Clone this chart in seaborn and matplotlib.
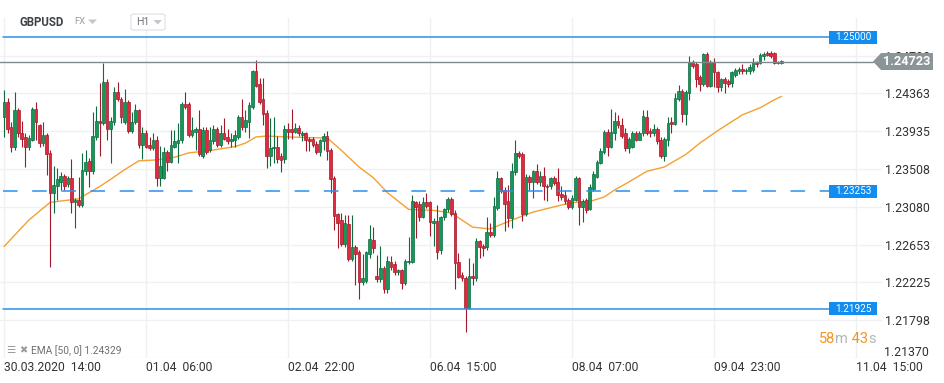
import numpy as np
import pandas as pd
import matplotlib
matplotlib.use("Agg")
import matplotlib.pyplot as plt
import matplotlib.transforms as mtransforms
from matplotlib.patches import Polygon, Rectangle, FancyBboxPatch
import seaborn as sns

# ---------------- data (GBPUSD, H1 candles) ----------------
opens = [
    1.2410, 1.2427, 1.2398, 1.2376, 1.2417, 1.2392, 1.2387, 1.2376, 1.2384, 1.2419,
    1.2400, 1.2380, 1.2389, 1.2369, 1.2324, 1.2331, 1.2336, 1.2343, 1.2334, 1.2340,
    1.2313, 1.2316, 1.2310, 1.2348, 1.2360, 1.2348, 1.2387, 1.2405, 1.2403, 1.2449,
    1.2396, 1.2404, 1.2438, 1.2430, 1.2404, 1.2426, 1.2394, 1.2404, 1.2417, 1.2378,
    1.2391, 1.2378, 1.2375, 1.2384, 1.2341, 1.2341, 1.2370, 1.2359, 1.2376, 1.2380,
    1.2383, 1.2424, 1.2424, 1.2389, 1.2393, 1.2396, 1.2366, 1.2395, 1.2372, 1.2382,
    1.2396, 1.2378, 1.2391, 1.2387, 1.2382, 1.2383, 1.2387, 1.2410, 1.2398, 1.2404,
    1.2421, 1.2461, 1.2447, 1.2430, 1.2414, 1.2366, 1.2374, 1.2376, 1.2365, 1.2362,
    1.2396, 1.2396, 1.2393, 1.2397, 1.2389, 1.2391, 1.2385, 1.2385, 1.2379, 1.2370,
    1.2382, 1.2388, 1.2372, 1.2341, 1.2300, 1.2293, 1.2266, 1.2289, 1.2249, 1.2262,
    1.2257, 1.2223, 1.2224, 1.2255, 1.2271, 1.2230, 1.2226, 1.2239, 1.2215, 1.2245,
    1.2243, 1.2234, 1.2236, 1.2222, 1.2245, 1.2246, 1.2313, 1.2311, 1.2297, 1.2313,
    1.2313, 1.2290, 1.2292, 1.2259, 1.2296, 1.2305, 1.2317, 1.2301, 1.2245, 1.2231,
    1.2228, 1.2194, 1.2230, 1.2227, 1.2269, 1.2264, 1.2262, 1.2280, 1.2276, 1.2307,
    1.2340, 1.2327, 1.2314, 1.2295, 1.2347, 1.2369, 1.2368, 1.2300, 1.2342, 1.2336,
    1.2348, 1.2336, 1.2343, 1.2332, 1.2331, 1.2341, 1.2336, 1.2323, 1.2321, 1.2316,
    1.2308, 1.2316, 1.2340, 1.2308, 1.2316, 1.2306, 1.2328, 1.2342, 1.2358, 1.2370,
    1.2393, 1.2376, 1.2392, 1.2405, 1.2400, 1.2392, 1.2374, 1.2376, 1.2392, 1.2384,
    1.2391, 1.2410, 1.2394, 1.2391, 1.2396, 1.2383, 1.2365, 1.2383, 1.2404, 1.2402,
    1.2430, 1.2439, 1.2413, 1.2437, 1.2472, 1.2470, 1.2455, 1.2447, 1.2481, 1.2445,
    1.2472, 1.2460, 1.2443, 1.2453, 1.2450, 1.2448, 1.2457, 1.2461, 1.2464, 1.2461,
    1.2461, 1.2463, 1.2471, 1.2471, 1.2478, 1.2482, 1.2482, 1.2482, 1.2471, 1.2471,
]
highs = [
    1.2440, 1.2431, 1.2404, 1.2438, 1.2420, 1.2405, 1.2392, 1.2389, 1.2421, 1.2427,
    1.2402, 1.2404, 1.2392, 1.2372, 1.2354, 1.2352, 1.2347, 1.2345, 1.2343, 1.2362,
    1.2318, 1.2342, 1.2369, 1.2372, 1.2363, 1.2415, 1.2422, 1.2448, 1.2471, 1.2453,
    1.2409, 1.2443, 1.2449, 1.2432, 1.2441, 1.2429, 1.2415, 1.2424, 1.2419, 1.2398,
    1.2395, 1.2387, 1.2392, 1.2388, 1.2377, 1.2376, 1.2372, 1.2395, 1.2395, 1.2403,
    1.2426, 1.2438, 1.2427, 1.2409, 1.2398, 1.2417, 1.2398, 1.2398, 1.2398, 1.2400,
    1.2398, 1.2401, 1.2408, 1.2396, 1.2392, 1.2395, 1.2412, 1.2430, 1.2418, 1.2426,
    1.2463, 1.2474, 1.2454, 1.2454, 1.2417, 1.2408, 1.2410, 1.2388, 1.2369, 1.2400,
    1.2403, 1.2419, 1.2403, 1.2400, 1.2394, 1.2393, 1.2387, 1.2387, 1.2382, 1.2385,
    1.2391, 1.2394, 1.2375, 1.2343, 1.2301, 1.2301, 1.2299, 1.2299, 1.2299, 1.2265,
    1.2259, 1.2255, 1.2258, 1.2287, 1.2285, 1.2253, 1.2264, 1.2241, 1.2252, 1.2252,
    1.2247, 1.2238, 1.2238, 1.2249, 1.2274, 1.2321, 1.2315, 1.2314, 1.2319, 1.2324,
    1.2315, 1.2295, 1.2310, 1.2298, 1.2307, 1.2319, 1.2319, 1.2304, 1.2256, 1.2234,
    1.2230, 1.2250, 1.2244, 1.2273, 1.2271, 1.2266, 1.2297, 1.2290, 1.2319, 1.2349,
    1.2342, 1.2330, 1.2333, 1.2357, 1.2384, 1.2371, 1.2370, 1.2345, 1.2344, 1.2350,
    1.2356, 1.2348, 1.2353, 1.2334, 1.2342, 1.2343, 1.2352, 1.2331, 1.2327, 1.2318,
    1.2321, 1.2343, 1.2342, 1.2317, 1.2318, 1.2334, 1.2349, 1.2361, 1.2374, 1.2395,
    1.2396, 1.2419, 1.2415, 1.2412, 1.2408, 1.2397, 1.2387, 1.2394, 1.2394, 1.2394,
    1.2417, 1.2417, 1.2397, 1.2402, 1.2398, 1.2387, 1.2387, 1.2409, 1.2410, 1.2437,
    1.2446, 1.2441, 1.2440, 1.2479, 1.2474, 1.2472, 1.2457, 1.2482, 1.2483, 1.2474,
    1.2476, 1.2462, 1.2454, 1.2455, 1.2453, 1.2462, 1.2465, 1.2466, 1.2470, 1.2465,
    1.2469, 1.2476, 1.2473, 1.2482, 1.2483, 1.2484, 1.2484, 1.2483, 1.2473, 1.2474,
]
lows = [
    1.2387, 1.2392, 1.2370, 1.2372, 1.2387, 1.2376, 1.2353, 1.2372, 1.2382, 1.2384,
    1.2376, 1.2377, 1.2344, 1.2240, 1.2301, 1.2316, 1.2327, 1.2327, 1.2330, 1.2301,
    1.2284, 1.2308, 1.2308, 1.2344, 1.2330, 1.2345, 1.2384, 1.2365, 1.2401, 1.2383,
    1.2358, 1.2401, 1.2428, 1.2403, 1.2402, 1.2392, 1.2392, 1.2402, 1.2374, 1.2362,
    1.2374, 1.2372, 1.2372, 1.2331, 1.2332, 1.2339, 1.2349, 1.2357, 1.2374, 1.2358,
    1.2380, 1.2419, 1.2387, 1.2387, 1.2372, 1.2366, 1.2363, 1.2368, 1.2370, 1.2379,
    1.2376, 1.2376, 1.2383, 1.2379, 1.2376, 1.2376, 1.2385, 1.2395, 1.2393, 1.2386,
    1.2419, 1.2443, 1.2424, 1.2400, 1.2352, 1.2354, 1.2357, 1.2357, 1.2347, 1.2358,
    1.2385, 1.2385, 1.2391, 1.2388, 1.2382, 1.2371, 1.2371, 1.2376, 1.2368, 1.2366,
    1.2372, 1.2361, 1.2324, 1.2282, 1.2261, 1.2264, 1.2262, 1.2247, 1.2247, 1.2219,
    1.2204, 1.2219, 1.2222, 1.2250, 1.2256, 1.2223, 1.2223, 1.2211, 1.2211, 1.2237,
    1.2231, 1.2231, 1.2215, 1.2220, 1.2243, 1.2244, 1.2273, 1.2292, 1.2295, 1.2307,
    1.2275, 1.2264, 1.2249, 1.2255, 1.2293, 1.2302, 1.2298, 1.2215, 1.2227, 1.2224,
    1.2166, 1.2192, 1.2220, 1.2224, 1.2250, 1.2252, 1.2259, 1.2274, 1.2274, 1.2304,
    1.2324, 1.2281, 1.2285, 1.2284, 1.2344, 1.2363, 1.2292, 1.2298, 1.2327, 1.2318,
    1.2334, 1.2331, 1.2316, 1.2314, 1.2328, 1.2333, 1.2314, 1.2316, 1.2311, 1.2306,
    1.2306, 1.2314, 1.2287, 1.2291, 1.2301, 1.2304, 1.2326, 1.2340, 1.2356, 1.2368,
    1.2365, 1.2374, 1.2384, 1.2397, 1.2386, 1.2371, 1.2369, 1.2374, 1.2382, 1.2383,
    1.2388, 1.2389, 1.2387, 1.2388, 1.2379, 1.2363, 1.2360, 1.2377, 1.2392, 1.2400,
    1.2428, 1.2404, 1.2401, 1.2429, 1.2465, 1.2444, 1.2439, 1.2445, 1.2443, 1.2443,
    1.2443, 1.2438, 1.2439, 1.2437, 1.2444, 1.2443, 1.2455, 1.2458, 1.2458, 1.2458,
    1.2458, 1.2460, 1.2466, 1.2469, 1.2474, 1.2478, 1.2476, 1.2469, 1.2469, 1.2470,
]
closes = [
    1.2427, 1.2396, 1.2376, 1.2417, 1.2391, 1.2385, 1.2376, 1.2386, 1.2419, 1.2404,
    1.2380, 1.2389, 1.2368, 1.2324, 1.2333, 1.2339, 1.2343, 1.2332, 1.2340, 1.2313,
    1.2316, 1.2310, 1.2350, 1.2359, 1.2348, 1.2388, 1.2405, 1.2403, 1.2449, 1.2396,
    1.2405, 1.2438, 1.2430, 1.2410, 1.2426, 1.2394, 1.2404, 1.2417, 1.2378, 1.2392,
    1.2376, 1.2375, 1.2384, 1.2341, 1.2354, 1.2370, 1.2359, 1.2378, 1.2382, 1.2384,
    1.2424, 1.2421, 1.2389, 1.2395, 1.2396, 1.2368, 1.2395, 1.2370, 1.2384, 1.2396,
    1.2378, 1.2391, 1.2385, 1.2382, 1.2385, 1.2389, 1.2410, 1.2398, 1.2406, 1.2423,
    1.2461, 1.2445, 1.2427, 1.2413, 1.2366, 1.2375, 1.2376, 1.2362, 1.2361, 1.2396,
    1.2393, 1.2393, 1.2397, 1.2391, 1.2392, 1.2383, 1.2382, 1.2378, 1.2370, 1.2383,
    1.2388, 1.2371, 1.2339, 1.2298, 1.2290, 1.2266, 1.2290, 1.2249, 1.2262, 1.2255,
    1.2223, 1.2227, 1.2257, 1.2272, 1.2261, 1.2226, 1.2239, 1.2215, 1.2247, 1.2240,
    1.2234, 1.2236, 1.2222, 1.2247, 1.2247, 1.2314, 1.2308, 1.2297, 1.2313, 1.2309,
    1.2291, 1.2292, 1.2257, 1.2296, 1.2305, 1.2317, 1.2300, 1.2244, 1.2229, 1.2227,
    1.2194, 1.2230, 1.2227, 1.2269, 1.2263, 1.2261, 1.2280, 1.2276, 1.2309, 1.2340,
    1.2326, 1.2311, 1.2295, 1.2348, 1.2369, 1.2366, 1.2300, 1.2342, 1.2336, 1.2348,
    1.2336, 1.2343, 1.2331, 1.2330, 1.2341, 1.2335, 1.2321, 1.2319, 1.2314, 1.2308,
    1.2318, 1.2341, 1.2308, 1.2315, 1.2304, 1.2330, 1.2345, 1.2359, 1.2371, 1.2393,
    1.2376, 1.2393, 1.2405, 1.2400, 1.2388, 1.2374, 1.2385, 1.2392, 1.2384, 1.2392,
    1.2411, 1.2392, 1.2391, 1.2396, 1.2382, 1.2365, 1.2385, 1.2403, 1.2402, 1.2431,
    1.2439, 1.2413, 1.2438, 1.2472, 1.2467, 1.2453, 1.2447, 1.2481, 1.2445, 1.2472,
    1.2460, 1.2443, 1.2452, 1.2448, 1.2447, 1.2460, 1.2463, 1.2464, 1.2461, 1.2463,
    1.2466, 1.2472, 1.2469, 1.2480, 1.2481, 1.2480, 1.2479, 1.2471, 1.2472, 1.24723,
]

ema_idx = [0, 7, 13, 21, 27, 30, 34, 38, 43, 48, 52, 57, 65, 68, 71, 74, 80, 88, 91, 95,
           100, 104, 108, 114, 121, 126, 129, 132, 137, 140, 145, 149, 157, 161, 165, 169,
           172, 176, 181, 186, 192, 196, 201, 208, 213, 217, 219]
ema_val = [1.2263, 1.2293, 1.2313, 1.2317, 1.2331, 1.2339, 1.2350, 1.2360, 1.2361, 1.2364,
           1.2369, 1.2371, 1.2376, 1.2380, 1.2387, 1.2388, 1.2387, 1.2386, 1.2386, 1.2372,
           1.2353, 1.2341, 1.2324, 1.2305, 1.2304, 1.2301, 1.2293, 1.2285, 1.2283, 1.2288,
           1.2296, 1.2302, 1.2310, 1.2313, 1.2314, 1.2319, 1.2327, 1.2336, 1.2348, 1.2353,
           1.2367, 1.2380, 1.2394, 1.2412, 1.2420, 1.2429, 1.24329]

x_tick_pos = [0, 40, 80, 120, 160, 200, 240]
x_tick_labels = ["30.03.2020  14:00", "01.04  06:00", "02.04  22:00", "06.04  15:00",
                 "08.04  07:00", "09.04  23:00", "11.04  15:00"]
y_ticks = [1.24790, 1.24363, 1.23935, 1.23508, 1.23080, 1.22653, 1.22225, 1.21798, 1.21370]

levels = [1.25000, 1.23253, 1.21925]
level_styles = ["solid", "dashed", "solid"]
last_price = 1.24723
ema_label = "EMA [50, 0] 1.24329"
countdown = ["58", "m", " 43", "s"]

# ---------------- style ----------------
sns.set_theme(style="white")
plt.rcParams["font.family"] = ["Roboto", "DejaVu Sans"]
plt.rcParams["lines.scale_dashes"] = False

GREEN, GREEN_EDGE = "#17965a", "#0d6b3d"
RED, RED_EDGE = "#e02a3c", "#a3182a"
BLUE, BLUE_BOX = "#2a90ef", "#118cf0"
ORANGE = "#f5a030"
GRID = "#eef0f2"
TXT = "#333333"

W, H = 945, 383
AX_L, AX_R, AX_T, AX_B = 0, 882, 18, 358
X0_PX, STEP_PX = 4.0, 3.55
Y_TOP, Y_BOT = 1.25215, 1.21373

fig = plt.figure(figsize=(W / 100, H / 100), dpi=100)
fig.patch.set_facecolor("white")
ax = fig.add_axes([AX_L / W, 1 - AX_B / H, (AX_R - AX_L) / W, (AX_B - AX_T) / H])
ax.set_facecolor("white")


def fx(px):
    return px / W


def fy(py):
    return 1 - py / H


ppx = (Y_TOP - Y_BOT) / (AX_B - AX_T)
bt = mtransforms.blended_transform_factory(fig.transFigure, ax.transData)

df = pd.DataFrame({"o": opens, "h": highs, "l": lows, "c": closes})
df["i"] = np.arange(len(df))
up = (df["c"] >= df["o"]).to_numpy()

# EMA line
ema_df = pd.DataFrame({"i": ema_idx, "v": ema_val})
sns.lineplot(data=ema_df, x="i", y="v", ax=ax, color=ORANGE, linewidth=1.0, zorder=2)

# wicks
ax.vlines(df["i"], df["l"], df["h"], colors=np.where(up, GREEN_EDGE, RED_EDGE),
          linewidth=0.8, zorder=3)
# bodies
min_h = 1.3 * ppx
raw_h = (df["c"] - df["o"]).abs().to_numpy()
mid = ((df["c"] + df["o"]) / 2).to_numpy()
body_h = np.maximum(raw_h, min_h)
body_b = mid - body_h / 2
ax.bar(df["i"], body_h, bottom=body_b, width=0.74,
       color=np.where(up, GREEN, RED), edgecolor=np.where(up, GREEN_EDGE, RED_EDGE),
       linewidth=0.5, zorder=4)

# axes limits / ticks
ax.set_xlim((AX_L - X0_PX) / STEP_PX, (AX_R - X0_PX) / STEP_PX)
ax.set_ylim(Y_BOT, Y_TOP)
ax.set_xticks(x_tick_pos)
ax.set_xticklabels(x_tick_labels, ha="left")
ax.yaxis.tick_right()
ax.set_yticks(y_ticks)
ax.set_yticklabels([f"{v:.5f}" if v != y_ticks[-1] else "" for v in y_ticks])
ax.tick_params(axis="x", length=0, pad=2.2, labelsize=8.7, labelcolor=TXT)
ax.tick_params(axis="y", length=0, pad=2.5, labelsize=8.9, labelcolor=TXT)
ax.grid(True, color=GRID, linewidth=1.0)
ax.set_xlabel("")
ax.set_ylabel("")
for s in ax.spines.values():
    s.set_visible(False)

# lowest price label sits slightly above its grid line
ax.text(fx(884.5), y_ticks[-1] + 5.5 * ppx, f"{y_ticks[-1]:.5f}", transform=bt,
        fontsize=8.9, color=TXT, ha="left", va="center", clip_on=False)

# horizontal levels with blue labels
for lv, st in zip(levels, level_styles):
    ls = (0, (10.5, 10.5)) if st == "dashed" else "-"
    ax.axhline(lv, xmin=3 / AX_R, xmax=829 / AX_R, color=BLUE, linewidth=1.1,
               linestyle=ls, zorder=5)
    ax.add_patch(Rectangle((fx(829), lv - 6.5 * ppx), fx(877) - fx(829), 13 * ppx,
                           transform=bt, facecolor=BLUE_BOX, edgecolor="none",
                           clip_on=False, zorder=6))
    ax.text(fx(853), lv, f"{lv:.5f}", transform=bt, color="white", fontsize=7.2,
            ha="center", va="center", clip_on=False, zorder=7)

# last price line & grey flag
ax.axhline(last_price, xmin=0, xmax=873 / AX_R, color="#7d8a8e", linewidth=1.0, zorder=5)
flag = Polygon([(fx(873), last_price), (fx(881), last_price + 8.5 * ppx),
                (fx(933), last_price + 8.5 * ppx), (fx(933), last_price - 8.5 * ppx),
                (fx(881), last_price - 8.5 * ppx)], closed=True, transform=bt,
               facecolor="#8b9598", edgecolor="none", clip_on=False, zorder=8)
ax.add_patch(flag)
ax.text(fx(907), last_price, f"{last_price:.5f}", transform=bt, color="white",
        fontsize=9.2, fontweight="bold", ha="center", va="center", clip_on=False, zorder=9)

# header
fig.text(fx(20), fy(22), "GBPUSD", fontsize=8.3, fontweight="bold", color="#3d4247",
         va="center", ha="left")
fig.text(fx(74), fy(22), "FX", fontsize=6.8, color="#9aa0a6", va="center", ha="left")
fig.add_artist(Polygon([(fx(88), fy(19.5)), (fx(97), fy(19.5)), (fx(92.5), fy(24))],
                       closed=True, transform=fig.transFigure, facecolor="#c4c7ca",
                       edgecolor="none"))
fig.add_artist(FancyBboxPatch((fx(131), fy(30)), fx(165) - fx(131), fy(14) - fy(30),
                              boxstyle="round,pad=0,rounding_size=0.004",
                              transform=fig.transFigure, facecolor="white",
                              edgecolor="#dcdfe2", linewidth=0.8))
fig.text(fx(136), fy(22), "H1", fontsize=7.6, color="#70757a", va="center", ha="left")
fig.add_artist(Polygon([(fx(153.5), fy(20)), (fx(162), fy(20)), (fx(157.8), fy(24.5))],
                       closed=True, transform=fig.transFigure, facecolor="#c4c7ca",
                       edgecolor="none"))

# EMA legend bottom-left
fig.text(fx(6), fy(350), "☰", fontsize=7.5, color="#9b9b9b", va="center", ha="left",
         family=["DejaVu Sans"])
fig.text(fx(19), fy(350), "✖", fontsize=7, color="#9b9b9b", va="center", ha="left",
         family=["DejaVu Sans"])
fig.text(fx(31), fy(351), ema_label, fontsize=7.3, color="#6e6e6e", va="center", ha="left")

# countdown
cols = ["#f7931e", "#b3b6b9", "#f7931e", "#b3b6b9"]
t = fig.text(fx(819), fy(339), countdown[0], fontsize=10.5, color=cols[0],
             va="center", ha="left")
for part, colr in zip(countdown[1:], cols[1:]):
    t = ax.annotate(part, xy=(1, 0), xycoords=t, va="bottom", ha="left",
                    fontsize=10.5, color=colr, annotation_clip=False)

fig.savefig("out.png", dpi=100, facecolor="white")
